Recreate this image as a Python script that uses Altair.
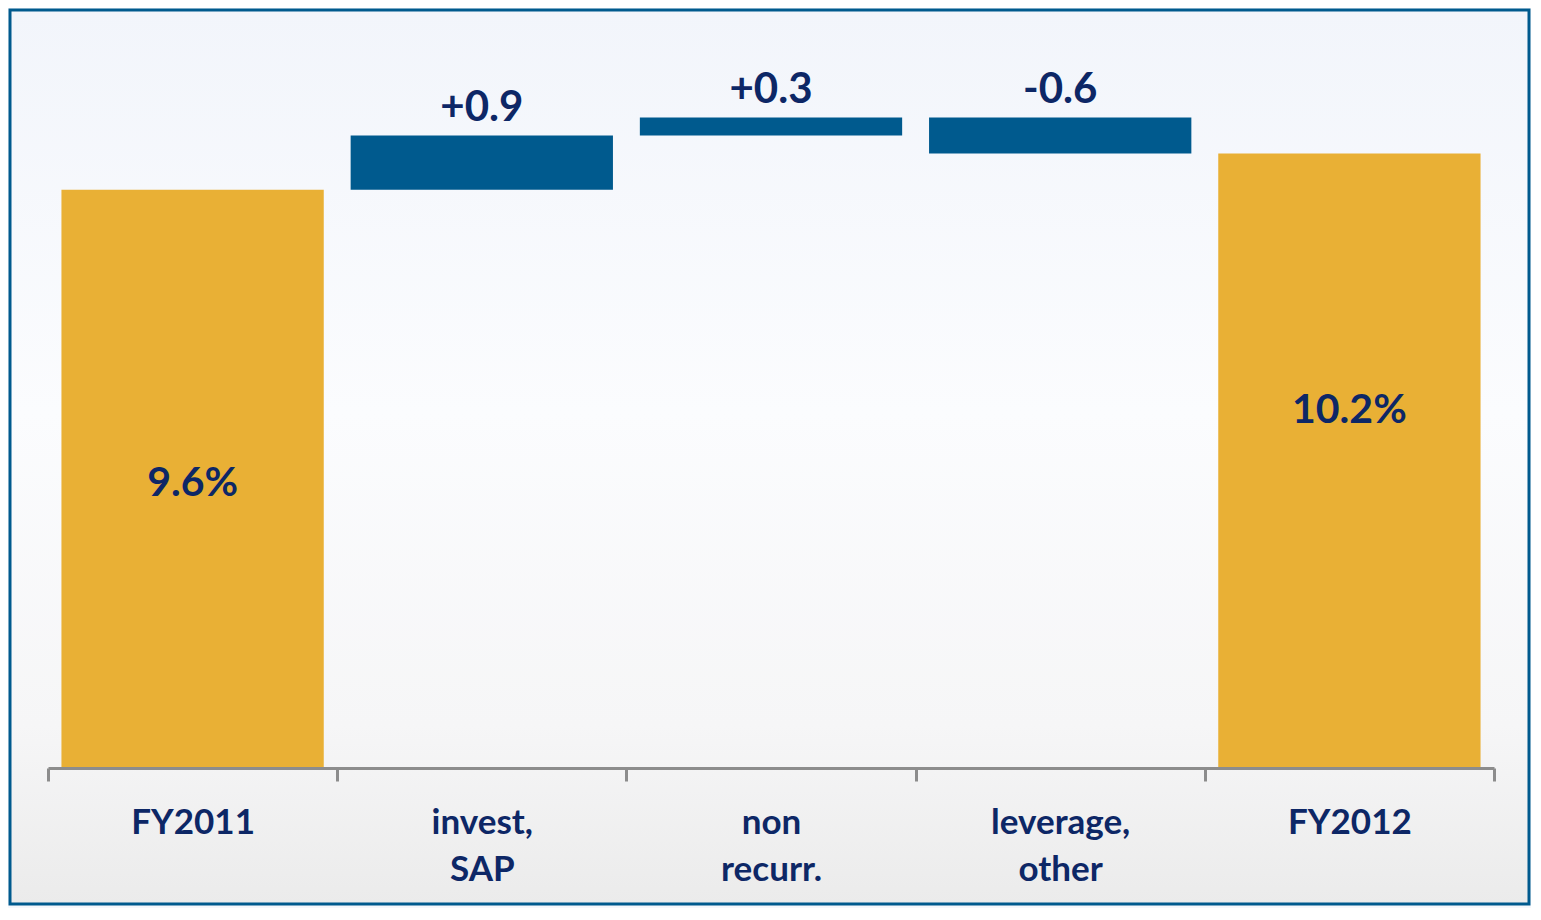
import altair as alt
import pandas as pd

categories = ["FY2011", "invest, SAP", "non recurr.", "leverage, other", "FY2012"]
values = [9.6, 0.9, 0.3, -0.6, 10.2]
kinds = ["total", "delta", "delta", "delta", "total"]
labels = ["9.6%", "+0.9", "+0.3", "-0.6", "10.2%"]

GOLD = "#E9B035"
BLUE = "#005A8E"
NAVY = "#0D2766"
GRAY = "#8C8C8C"
FONT = "Lato"

rows = []
running = 0.0
for c, v, k, l in zip(categories, values, kinds, labels):
    if k == "total":
        start, end = 0.0, v
        running = v
    else:
        start, end = running, running + v
        running = end
    rows.append(dict(category=c, start=start, end=end, kind=k, label=l,
                     top=max(start, end), mid=(start + end) / 2))
df = pd.DataFrame(rows)

W, H = 1446, 753

bg = alt.Chart(pd.DataFrame({"a": [0]})).mark_rect(
    fill=alt.Gradient(
        gradient="linear",
        stops=[
            alt.GradientStop(color="#f2f5fb", offset=0),
            alt.GradientStop(color="#fbfcfe", offset=0.45),
            alt.GradientStop(color="#f6f6f7", offset=0.8),
            alt.GradientStop(color="#ebebeb", offset=1),
        ],
        x1=0, x2=0, y1=0, y2=1,
    ),
    stroke=BLUE,
    strokeWidth=3,
).encode(
    x=alt.value(-38), x2=alt.value(W + 35),
    y=alt.value(-5), y2=alt.value(H + 136),
)

base = alt.Chart(df)

x_scale = alt.Scale(paddingInner=0, paddingOuter=0)
x_enc = alt.X(
    "category:N",
    sort=categories,
    scale=x_scale,
    axis=alt.Axis(
        title=None, labelAngle=0, tickBand="extent", zindex=1,
        domainColor=GRAY, domainWidth=3, tickColor=GRAY, tickWidth=3, tickSize=13,
        labelFont=FONT, labelFontSize=35, labelFontWeight="bold", labelColor=NAVY,
        labelPadding=52, labelBaseline="alphabetic", labelLineHeight=47,
        labelExpr="split(datum.label, ' ')",
    ),
)
y_scale = alt.Scale(domain=[0, 12.5], nice=False, zero=True)

bars = base.mark_bar(width=alt.RelativeBandSize(0.907)).encode(
    x=x_enc,
    y=alt.Y("start:Q", scale=y_scale, axis=None),
    y2="end:Q",
    color=alt.Color("kind:N", scale=alt.Scale(domain=["total", "delta"], range=[GOLD, BLUE]), legend=None),
)

delta_text = base.transform_filter(alt.datum.kind == "delta").mark_text(
    dy=-14, baseline="alphabetic", font=FONT, fontSize=42, fontWeight="bold", color=NAVY
).encode(
    x=alt.X("category:N", sort=categories, scale=x_scale),
    y=alt.Y("top:Q", scale=y_scale),
    text="label:N",
)

first_text = base.transform_filter(alt.datum.category == "FY2011").mark_text(
    dy=5, baseline="middle", font=FONT, fontSize=41, fontWeight="bold", color=NAVY
).encode(
    x=alt.X("category:N", sort=categories, scale=x_scale),
    y=alt.Y("mid:Q", scale=y_scale),
    text="label:N",
)

last_text = base.transform_filter(alt.datum.category == "FY2012").mark_text(
    dy=-50, baseline="middle", font=FONT, fontSize=41, fontWeight="bold", color=NAVY
).encode(
    x=alt.X("category:N", sort=categories, scale=x_scale),
    y=alt.Y("mid:Q", scale=y_scale),
    text="label:N",
)

chart = alt.layer(bg, bars, delta_text, first_text, last_text).properties(
    width=W, height=H,
    padding={"left": 40, "top": 7, "right": 37, "bottom": 140},
    autosize=alt.AutoSizeParams(type="none"),
    background="#f6f8fc",
).configure_view(stroke=None)

chart.save("out.html", embed_options={"renderer": "svg", "actions": False})
